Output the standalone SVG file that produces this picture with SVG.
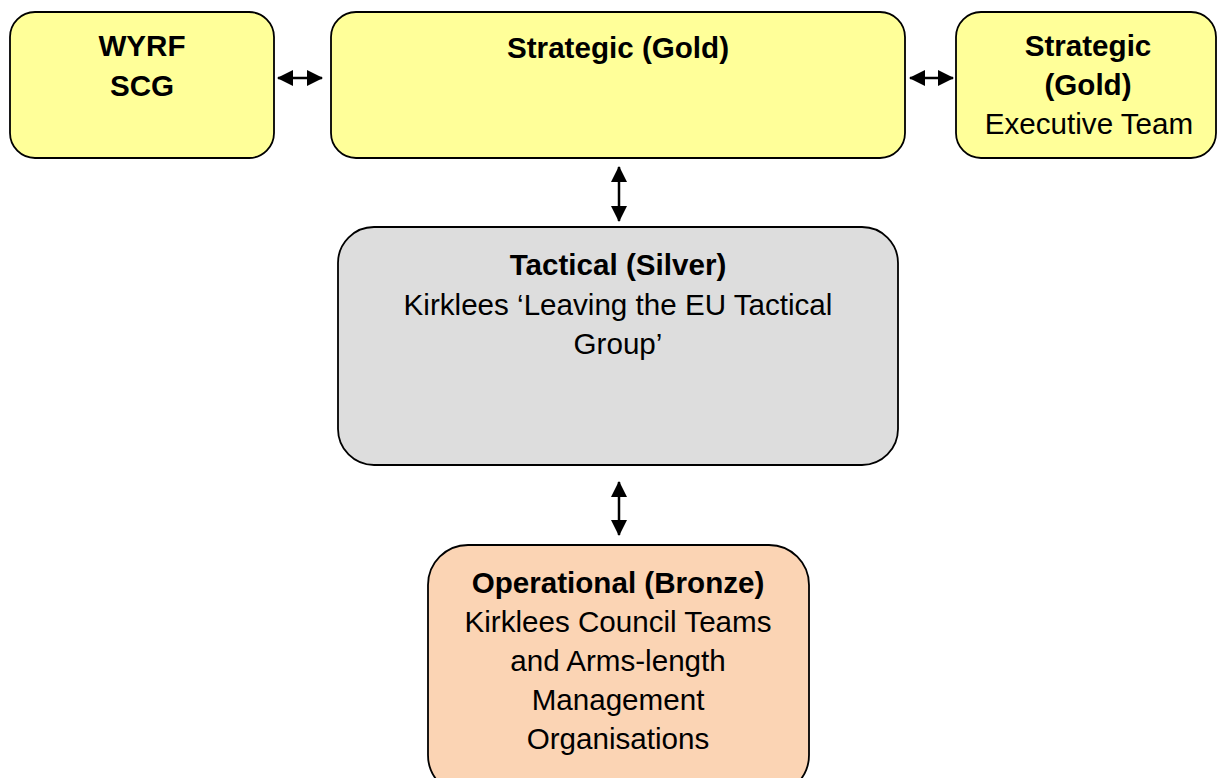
<svg xmlns="http://www.w3.org/2000/svg" width="1217" height="778" viewBox="0 0 1217 778">
<style>
.box{stroke:#000;stroke-width:1.8}
.gold{fill:#FFFF99}
.silver{fill:#DDDDDD}
.bronze{fill:#FBD4B4}
text{font-family:"Liberation Sans",Arial,sans-serif;font-size:29.6px;fill:#000;text-anchor:middle}
.b{font-weight:bold}
.conn{stroke:#000;stroke-width:2.5;fill:none}
</style>
<defs>
<marker id="ah" markerUnits="userSpaceOnUse" markerWidth="16" markerHeight="16" viewBox="0 0 16 16" refX="15" refY="8" orient="auto-start-reverse">
<path d="M0,0 L16,8 L0,16 Z" fill="#000"/>
</marker>
</defs>
<rect width="1217" height="778" fill="#fff"/>
<g id="wyrf">
<rect class="box gold" x="10" y="12" width="264" height="146" rx="25"/>
<text class="b" x="142" y="56">WYRF</text>
<text class="b" x="142" y="96">SCG</text>
</g>
<g id="strategic">
<rect class="box gold" x="331" y="12" width="574" height="146" rx="25"/>
<text class="b" x="618" y="58">Strategic (Gold)</text>
</g>
<g id="executive">
<rect class="box gold" x="956" y="12" width="260" height="146" rx="25"/>
<text class="b" x="1088" y="56">Strategic</text>
<text class="b" x="1088" y="95">(Gold)</text>
<text x="1089" y="134">Executive Team</text>
</g>
<g id="tactical">
<rect class="box silver" x="338" y="227" width="560" height="238" rx="36"/>
<text class="b" x="618" y="275">Tactical (Silver)</text>
<text x="618" y="315">Kirklees ‘Leaving the EU Tactical</text>
<text x="618" y="354">Group’</text>
</g>
<g id="operational">
<rect class="box bronze" x="428" y="545" width="381" height="250" rx="40"/>
<text class="b" x="618" y="593">Operational (Bronze)</text>
<text x="618" y="632">Kirklees Council Teams</text>
<text x="618" y="671">and Arms-length</text>
<text x="618" y="710">Management</text>
<text x="618" y="749">Organisations</text>
</g>
<g id="connectors">
<line class="conn" x1="278" y1="78" x2="322" y2="78" marker-start="url(#ah)" marker-end="url(#ah)"/>
<line class="conn" x1="910" y1="78" x2="953" y2="78" marker-start="url(#ah)" marker-end="url(#ah)"/>
<line class="conn" x1="619" y1="167" x2="619" y2="221" marker-start="url(#ah)" marker-end="url(#ah)"/>
<line class="conn" x1="619" y1="482" x2="619" y2="535" marker-start="url(#ah)" marker-end="url(#ah)"/>
</g>
</svg>
